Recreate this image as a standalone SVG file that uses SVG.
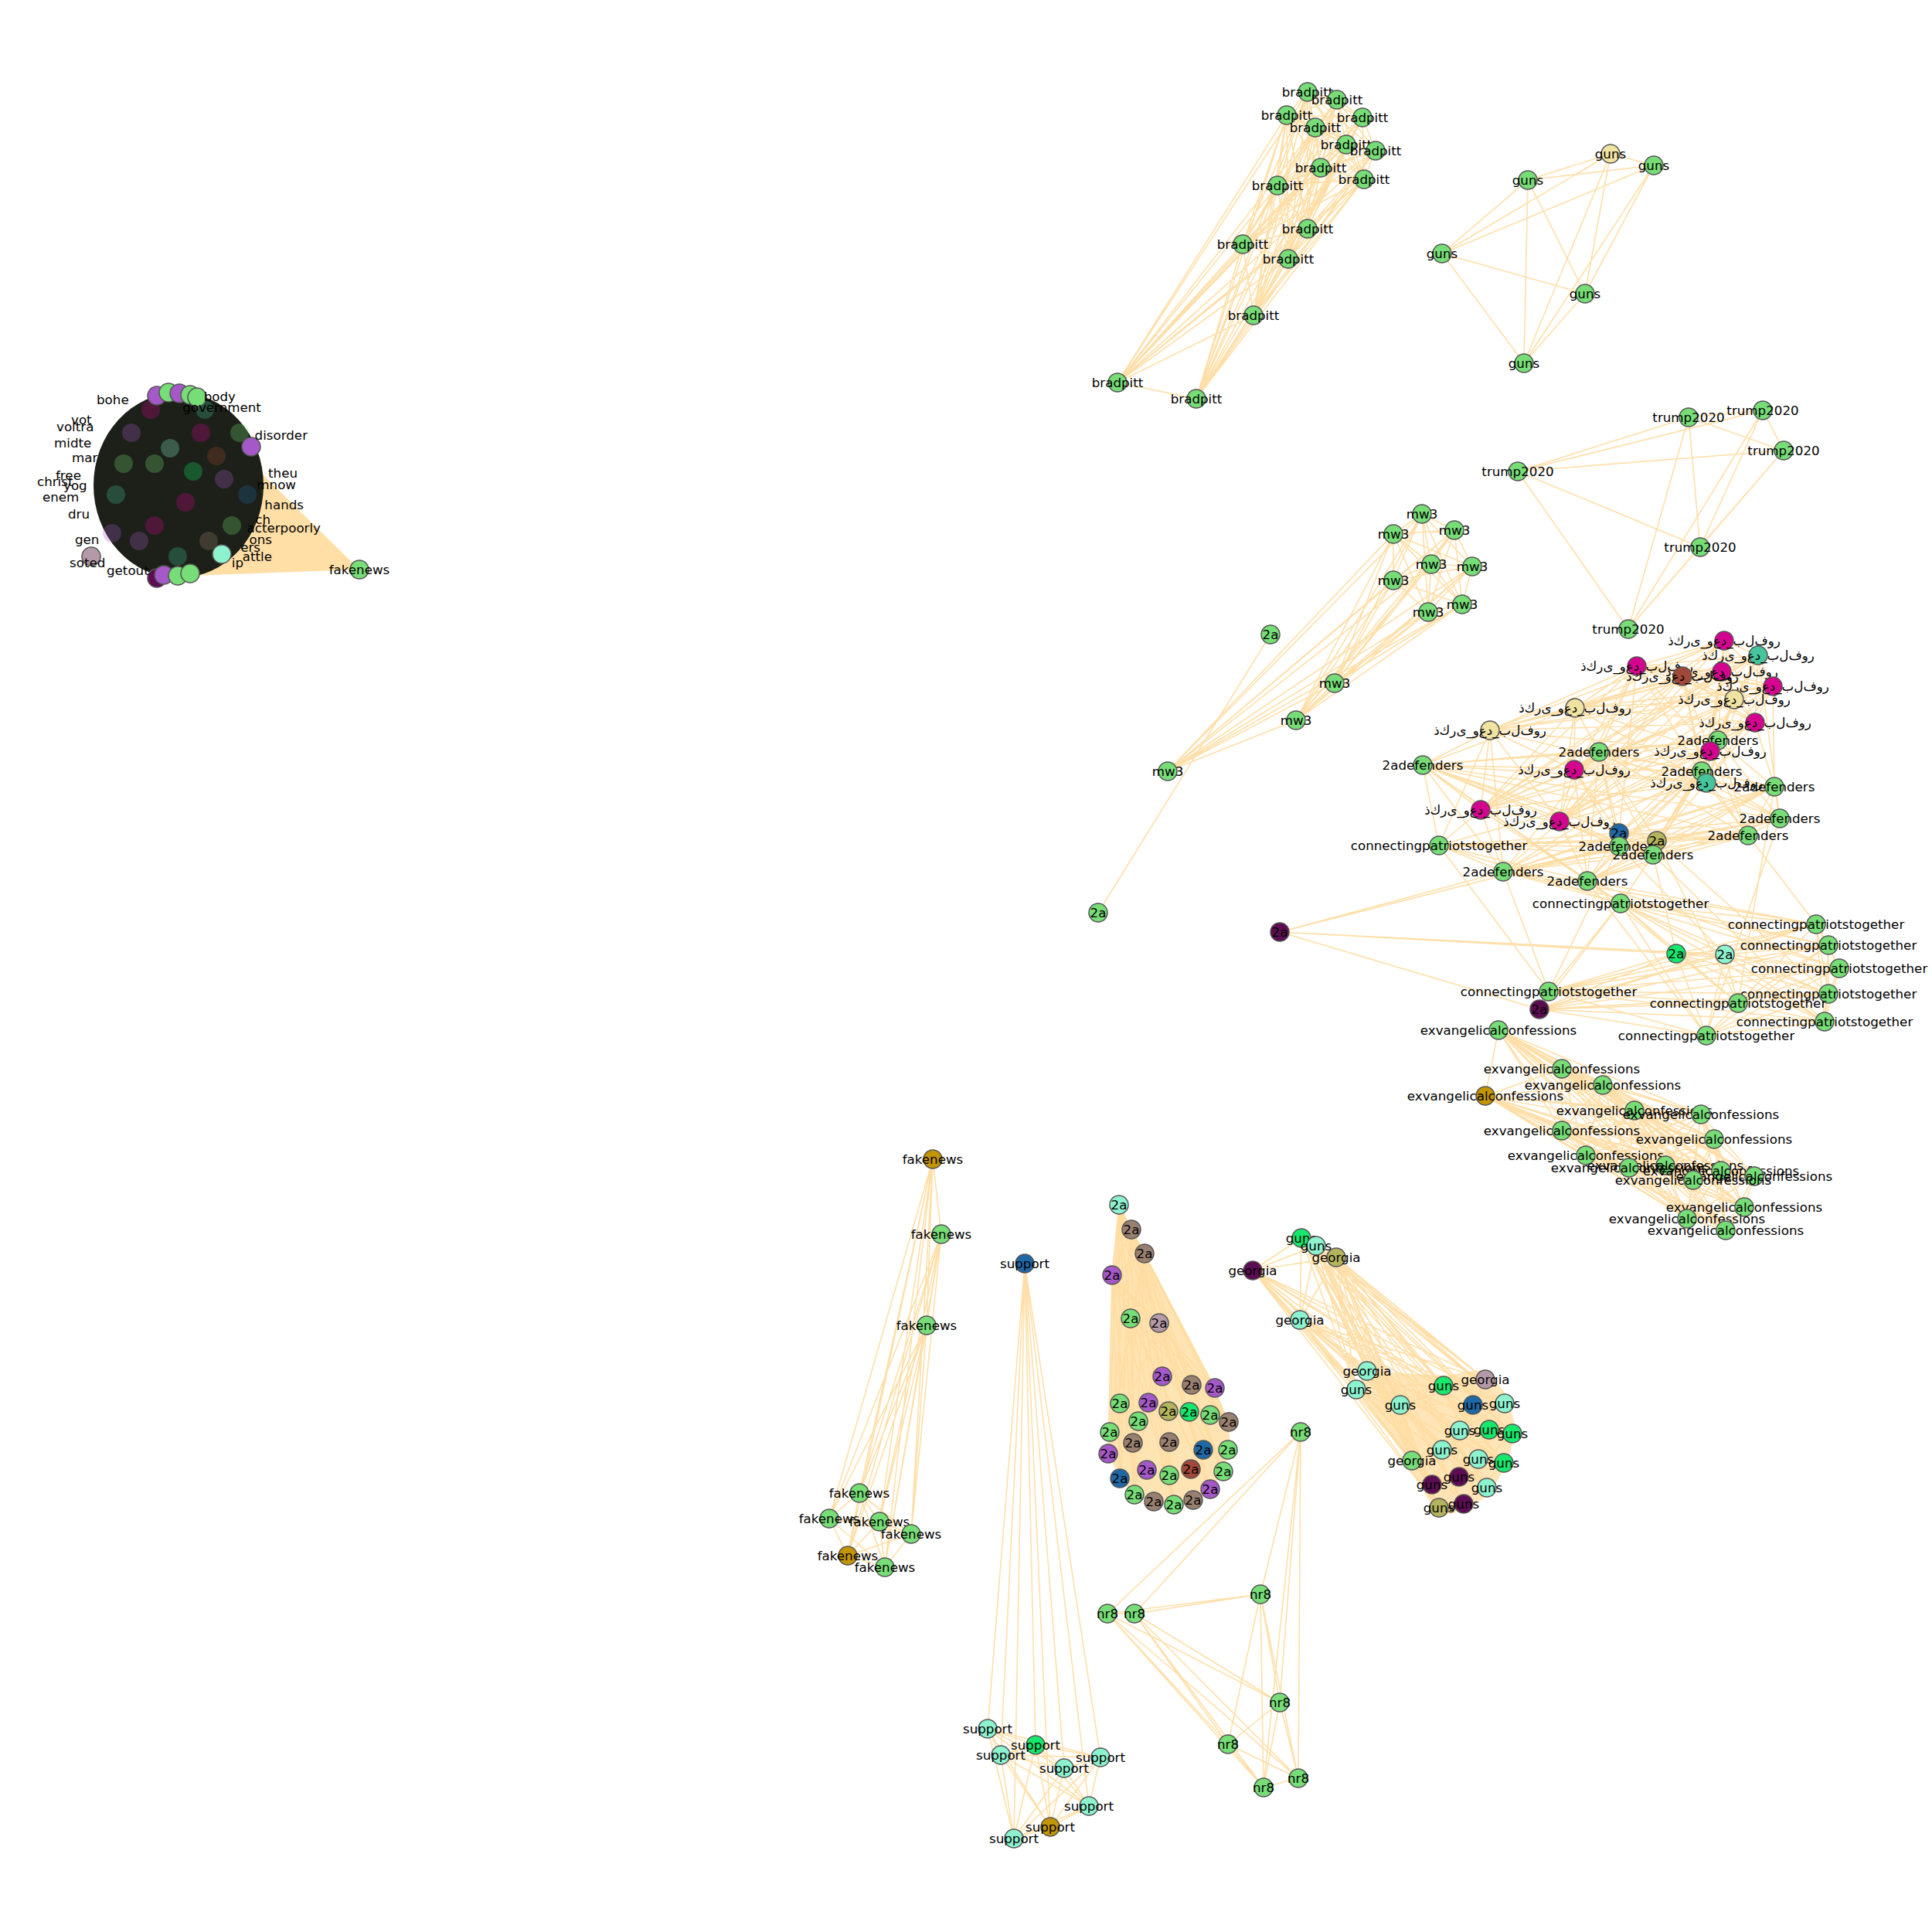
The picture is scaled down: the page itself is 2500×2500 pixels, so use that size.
<svg xmlns="http://www.w3.org/2000/svg" width="2500" height="2500" viewBox="0 0 2500 2500">
<style>
.e{fill:none;stroke:#ffdca0;stroke-width:1.6;stroke-opacity:0.9}
.f{fill:#ffdfa6;stroke:none}
circle{stroke:#555;stroke-width:1.5}
text{font-family:"DejaVu Sans",sans-serif;font-size:16.7px;text-anchor:middle;dominant-baseline:central;fill:#000}
.s{text-anchor:start}.en{text-anchor:end}
.ar{direction:ltr;unicode-bidi:bidi-override;font-feature-settings:"init" 0,"medi" 0,"fina" 0,"rlig" 0,"liga" 0,"calt" 0}
.sp circle{opacity:0.28;stroke:none}
.g{fill:#77dd77}.aq{fill:#8df3cf}.bg{fill:#16e86c}.pu{fill:#a558c8}.br{fill:#998070}.mv{fill:#b49aa8}.ol{fill:#b4b45e}.bl{fill:#1f68a6}.rb{fill:#a2483a}.dp{fill:#5c0c52}.go{fill:#c39500}.kh{fill:#f0e2a0}.mg{fill:#d5048f}.tl{fill:#46c59c}
</style>
<rect width="2500" height="2500" fill="#fff"/>
<g id="connectors">
<polygon class="f" points="465,737 338,612 300,690 248,745"/>
<path class="e" d="M1692 119L1730 129 1692 119 1665 149 1692 119 1763 152 1692 119 1702 165 1692 119 1742 187 1692 119 1780 195 1692 119 1709 217 1692 119 1765 232 1692 119 1653 240 1692 119 1692 296 1692 119 1608 316 1692 119 1667 335 1692 119 1622 408 1692 119 1446 495 1692 119 1548 516
M1730 129L1665 149 1730 129 1763 152 1730 129 1702 165 1730 129 1742 187 1730 129 1780 195 1730 129 1709 217 1730 129 1765 232 1730 129 1653 240 1730 129 1692 296 1730 129 1608 316 1730 129 1667 335 1730 129 1622 408 1730 129 1446 495 1730 129 1548 516
M1665 149L1763 152 1665 149 1702 165 1665 149 1742 187 1665 149 1780 195 1665 149 1709 217 1665 149 1765 232 1665 149 1653 240 1665 149 1692 296 1665 149 1608 316 1665 149 1667 335 1665 149 1622 408 1665 149 1446 495 1665 149 1548 516
M1763 152L1702 165 1763 152 1742 187 1763 152 1780 195 1763 152 1709 217 1763 152 1765 232 1763 152 1653 240 1763 152 1692 296 1763 152 1608 316 1763 152 1667 335 1763 152 1622 408 1763 152 1446 495 1763 152 1548 516
M1702 165L1742 187 1702 165 1780 195 1702 165 1709 217 1702 165 1765 232 1702 165 1653 240 1702 165 1692 296 1702 165 1608 316 1702 165 1667 335 1702 165 1622 408 1702 165 1446 495 1702 165 1548 516
M1742 187L1780 195 1742 187 1709 217 1742 187 1765 232 1742 187 1653 240 1742 187 1692 296 1742 187 1608 316 1742 187 1667 335 1742 187 1622 408 1742 187 1446 495 1742 187 1548 516
M1780 195L1709 217 1780 195 1765 232 1780 195 1653 240 1780 195 1692 296 1780 195 1608 316 1780 195 1667 335 1780 195 1622 408 1780 195 1446 495 1780 195 1548 516
M1709 217L1765 232 1709 217 1653 240 1709 217 1692 296 1709 217 1608 316 1709 217 1667 335 1709 217 1622 408 1709 217 1446 495 1709 217 1548 516
M1765 232L1653 240 1765 232 1692 296 1765 232 1608 316 1765 232 1667 335 1765 232 1622 408 1765 232 1446 495 1765 232 1548 516
M1653 240L1692 296 1653 240 1608 316 1653 240 1667 335 1653 240 1622 408 1653 240 1446 495 1653 240 1548 516
M1692 296L1608 316 1692 296 1667 335 1692 296 1622 408 1692 296 1446 495 1692 296 1548 516
M1608 316L1667 335 1608 316 1622 408 1608 316 1446 495 1608 316 1548 516
M1667 335L1622 408 1667 335 1446 495 1667 335 1548 516
M1622 408L1446 495 1622 408 1548 516
M1446 495L1548 516"/>
<path class="e" d="M2084 199L2140 214 2084 199 1977 233 2084 199 1866 328 2084 199 2051 380 2084 199 1972 470
M2140 214L1977 233 2140 214 1866 328 2140 214 2051 380 2140 214 1972 470
M1977 233L1866 328 1977 233 2051 380 1977 233 1972 470
M1866 328L2051 380 1866 328 1972 470
M2051 380L1972 470"/>
<path class="e" d="M2185 540L2281 531 2185 540 2308 583 2185 540 1964 610 2185 540 2200 708 2185 540 2107 814
M2281 531L2308 583 2281 531 1964 610 2281 531 2200 708 2281 531 2107 814
M2308 583L1964 610 2308 583 2200 708 2308 583 2107 814
M1964 610L2200 708 1964 610 2107 814
M2200 708L2107 814"/>
<path class="e" d="M1840 665L1803 691 1840 665 1882 686 1840 665 1852 730 1840 665 1905 733 1840 665 1803 751 1840 665 1848 792 1840 665 1892 782 1840 665 1727 884 1840 665 1677 932 1840 665 1511 998
M1803 691L1882 686 1803 691 1852 730 1803 691 1905 733 1803 691 1803 751 1803 691 1848 792 1803 691 1892 782 1803 691 1727 884 1803 691 1677 932 1803 691 1511 998
M1882 686L1852 730 1882 686 1905 733 1882 686 1803 751 1882 686 1848 792 1882 686 1892 782 1882 686 1727 884 1882 686 1677 932 1882 686 1511 998
M1852 730L1905 733 1852 730 1803 751 1852 730 1848 792 1852 730 1892 782 1852 730 1727 884 1852 730 1677 932 1852 730 1511 998
M1905 733L1803 751 1905 733 1848 792 1905 733 1892 782 1905 733 1727 884 1905 733 1677 932 1905 733 1511 998
M1803 751L1848 792 1803 751 1892 782 1803 751 1727 884 1803 751 1677 932 1803 751 1511 998
M1848 792L1892 782 1848 792 1727 884 1848 792 1677 932 1848 792 1511 998
M1892 782L1727 884 1892 782 1677 932 1892 782 1511 998
M1727 884L1677 932 1727 884 1511 998
M1677 932L1511 998
M1644 821L1421 1181"/>
<path class="e" d="M2231 829L2275 848 2231 829 2118 862 2231 829 2177 875 2231 829 2228 869 2231 829 2294 888 2231 829 2244 905 2231 829 2038 916 2231 829 1928 945 2231 829 2271 935 2231 829 2213 972 2231 829 2037 996 2231 829 2208 1013 2231 829 1916 1048 2231 829 2018 1063
M2275 848L2118 862 2275 848 2177 875 2275 848 2228 869 2275 848 2294 888 2275 848 2244 905 2275 848 2038 916 2275 848 1928 945 2275 848 2271 935 2275 848 2213 972 2275 848 2037 996 2275 848 2208 1013 2275 848 1916 1048 2275 848 2018 1063
M2118 862L2177 875 2118 862 2228 869 2118 862 2294 888 2118 862 2244 905 2118 862 2038 916 2118 862 1928 945 2118 862 2271 935 2118 862 2213 972 2118 862 2037 996 2118 862 2208 1013 2118 862 1916 1048 2118 862 2018 1063
M2177 875L2228 869 2177 875 2294 888 2177 875 2244 905 2177 875 2038 916 2177 875 1928 945 2177 875 2271 935 2177 875 2213 972 2177 875 2037 996 2177 875 2208 1013 2177 875 1916 1048 2177 875 2018 1063
M2228 869L2294 888 2228 869 2244 905 2228 869 2038 916 2228 869 1928 945 2228 869 2271 935 2228 869 2213 972 2228 869 2037 996 2228 869 2208 1013 2228 869 1916 1048 2228 869 2018 1063
M2294 888L2244 905 2294 888 2038 916 2294 888 1928 945 2294 888 2271 935 2294 888 2213 972 2294 888 2037 996 2294 888 2208 1013 2294 888 1916 1048 2294 888 2018 1063
M2244 905L2038 916 2244 905 1928 945 2244 905 2271 935 2244 905 2213 972 2244 905 2037 996 2244 905 2208 1013 2244 905 1916 1048 2244 905 2018 1063
M2038 916L1928 945 2038 916 2271 935 2038 916 2213 972 2038 916 2037 996 2038 916 2208 1013 2038 916 1916 1048 2038 916 2018 1063
M1928 945L2271 935 1928 945 2213 972 1928 945 2037 996 1928 945 2208 1013 1928 945 1916 1048 1928 945 2018 1063
M2271 935L2213 972 2271 935 2037 996 2271 935 2208 1013 2271 935 1916 1048 2271 935 2018 1063
M2213 972L2037 996 2213 972 2208 1013 2213 972 1916 1048 2213 972 2018 1063
M2037 996L2208 1013 2037 996 1916 1048 2037 996 2018 1063
M2208 1013L1916 1048 2208 1013 2018 1063
M1916 1048L2018 1063"/>
<path class="e" d="M2223 958L2069 973 2223 958 1841 990 2223 958 2202 998 2223 958 2296 1018 2223 958 2303 1059 2223 958 2262 1081 2223 958 2095 1095 2223 958 2139 1106 2223 958 1945 1128 2223 958 2054 1140 2223 958 2095 1078 2223 958 2144 1088
M2069 973L1841 990 2069 973 2202 998 2069 973 2296 1018 2069 973 2303 1059 2069 973 2262 1081 2069 973 2095 1095 2069 973 2139 1106 2069 973 1945 1128 2069 973 2054 1140 2069 973 2095 1078 2069 973 2144 1088
M1841 990L2202 998 1841 990 2296 1018 1841 990 2303 1059 1841 990 2262 1081 1841 990 2095 1095 1841 990 2139 1106 1841 990 1945 1128 1841 990 2054 1140 1841 990 2095 1078 1841 990 2144 1088
M2202 998L2296 1018 2202 998 2303 1059 2202 998 2262 1081 2202 998 2095 1095 2202 998 2139 1106 2202 998 1945 1128 2202 998 2054 1140 2202 998 2095 1078 2202 998 2144 1088
M2296 1018L2303 1059 2296 1018 2262 1081 2296 1018 2095 1095 2296 1018 2139 1106 2296 1018 1945 1128 2296 1018 2054 1140 2296 1018 2095 1078 2296 1018 2144 1088
M2303 1059L2262 1081 2303 1059 2095 1095 2303 1059 2139 1106 2303 1059 1945 1128 2303 1059 2054 1140 2303 1059 2095 1078 2303 1059 2144 1088
M2262 1081L2095 1095 2262 1081 2139 1106 2262 1081 1945 1128 2262 1081 2054 1140 2262 1081 2095 1078 2262 1081 2144 1088
M2095 1095L2139 1106 2095 1095 1945 1128 2095 1095 2054 1140 2095 1095 2095 1078 2095 1095 2144 1088
M2139 1106L1945 1128 2139 1106 2054 1140 2139 1106 2095 1078 2139 1106 2144 1088
M1945 1128L2054 1140 1945 1128 2095 1078 1945 1128 2144 1088
M2054 1140L2095 1078 2054 1140 2144 1088
M2095 1078L2144 1088"/>
<path class="e" d="M1928 945L1841 990M1928 945L1945 1128M1916 1048L1841 990M1916 1048L1945 1128M1916 1048L2054 1140M2018 1063L1945 1128M2018 1063L2095 1095M2018 1063L2139 1106M2037 996L2069 973M2037 996L2095 1095M2037 996L2095 1078M2038 916L2069 973M2038 916L1841 990M2118 862L2069 973M2118 862L2095 1078M2177 875L2202 998M2213 972L2202 998M2213 972L2262 1081M2208 1013L2296 1018M2208 1013L2303 1059M2208 1013L2262 1081M2271 935L2296 1018M2271 935L2223 958M2244 905L2223 958M2294 888L2296 1018M2228 869L2202 998M2275 848L2303 1059M2231 829L2223 958M2213 972L2144 1088M2208 1013L2144 1088M2037 996L2054 1140M2018 1063L2054 1140M1916 1048L1862 1094M1928 945L1862 1094"/>
<path class="e" d="M2097 1169L2350 1196 2097 1169 2366 1223 2097 1169 2380 1253 2097 1169 2366 1286 2097 1169 2004 1283 2097 1169 2249 1298 2097 1169 2361 1322 2097 1169 2208 1340 2097 1169 2169 1234 2097 1169 2232 1235 2097 1169 1992 1306
M2350 1196L2366 1223 2350 1196 2380 1253 2350 1196 2366 1286 2350 1196 2004 1283 2350 1196 2249 1298 2350 1196 2361 1322 2350 1196 2208 1340 2350 1196 2169 1234 2350 1196 2232 1235 2350 1196 1992 1306
M2366 1223L2380 1253 2366 1223 2366 1286 2366 1223 2004 1283 2366 1223 2249 1298 2366 1223 2361 1322 2366 1223 2208 1340 2366 1223 2169 1234 2366 1223 2232 1235 2366 1223 1992 1306
M2380 1253L2366 1286 2380 1253 2004 1283 2380 1253 2249 1298 2380 1253 2361 1322 2380 1253 2208 1340 2380 1253 2169 1234 2380 1253 2232 1235 2380 1253 1992 1306
M2366 1286L2004 1283 2366 1286 2249 1298 2366 1286 2361 1322 2366 1286 2208 1340 2366 1286 2169 1234 2366 1286 2232 1235 2366 1286 1992 1306
M2004 1283L2249 1298 2004 1283 2361 1322 2004 1283 2208 1340 2004 1283 2169 1234 2004 1283 2232 1235 2004 1283 1992 1306
M2249 1298L2361 1322 2249 1298 2208 1340 2249 1298 2169 1234 2249 1298 2232 1235 2249 1298 1992 1306
M2361 1322L2208 1340 2361 1322 2169 1234 2361 1322 2232 1235 2361 1322 1992 1306
M2208 1340L2169 1234 2208 1340 2232 1235 2208 1340 1992 1306
M2169 1234L2232 1235 2169 1234 1992 1306
M2232 1235L1992 1306
M1862 1094L1945 1128 1862 1094 2054 1140 1862 1094 2095 1095 1862 1094 2139 1106 1862 1094 2095 1078 1862 1094 2144 1088 1862 1094 2202 998 1862 1094 2262 1081 1862 1094 2097 1169 1862 1094 2004 1283 1862 1094 1841 990
M1945 1128L2097 1169 1945 1128 2350 1196 1945 1128 2366 1223 1945 1128 2004 1283
M2054 1140L2097 1169 2054 1140 2350 1196 2054 1140 2380 1253 2054 1140 2249 1298 2054 1140 2208 1340
M2139 1106L2097 1169 2139 1106 2169 1234 2139 1106 2361 1322
M2095 1095L2004 1283 2095 1095 2232 1235
M2144 1088L2366 1286 2144 1088 2249 1298
M2262 1081L2350 1196M2303 1059L2208 1340M2296 1018L2249 1298M1841 990L2097 1169
M1656 1206L1945 1128 1656 1206 2095 1095 1656 1206 2169 1234 1656 1206 2232 1235 1656 1206 1992 1306"/>
<path class="e" d="M1939 1333L2021 1383 1939 1333 2074 1404 1939 1333 1922 1418 1939 1333 2115 1437 1939 1333 2201 1442 1939 1333 2021 1463 1939 1333 2218 1474 1939 1333 2052 1495 1939 1333 2108 1511 1939 1333 2155 1508 1939 1333 2191 1527 1939 1333 2227 1515 1939 1333 2270 1522 1939 1333 2257 1562 1939 1333 2183 1577 1939 1333 2233 1592
M2021 1383L2074 1404 2021 1383 1922 1418 2021 1383 2115 1437 2021 1383 2201 1442 2021 1383 2021 1463 2021 1383 2218 1474 2021 1383 2052 1495 2021 1383 2108 1511 2021 1383 2155 1508 2021 1383 2191 1527 2021 1383 2227 1515 2021 1383 2270 1522 2021 1383 2257 1562 2021 1383 2183 1577 2021 1383 2233 1592
M2074 1404L1922 1418 2074 1404 2115 1437 2074 1404 2201 1442 2074 1404 2021 1463 2074 1404 2218 1474 2074 1404 2052 1495 2074 1404 2108 1511 2074 1404 2155 1508 2074 1404 2191 1527 2074 1404 2227 1515 2074 1404 2270 1522 2074 1404 2257 1562 2074 1404 2183 1577 2074 1404 2233 1592
M1922 1418L2115 1437 1922 1418 2201 1442 1922 1418 2021 1463 1922 1418 2218 1474 1922 1418 2052 1495 1922 1418 2108 1511 1922 1418 2155 1508 1922 1418 2191 1527 1922 1418 2227 1515 1922 1418 2270 1522 1922 1418 2257 1562 1922 1418 2183 1577 1922 1418 2233 1592
M2115 1437L2201 1442 2115 1437 2021 1463 2115 1437 2218 1474 2115 1437 2052 1495 2115 1437 2108 1511 2115 1437 2155 1508 2115 1437 2191 1527 2115 1437 2227 1515 2115 1437 2270 1522 2115 1437 2257 1562 2115 1437 2183 1577 2115 1437 2233 1592
M2201 1442L2021 1463 2201 1442 2218 1474 2201 1442 2052 1495 2201 1442 2108 1511 2201 1442 2155 1508 2201 1442 2191 1527 2201 1442 2227 1515 2201 1442 2270 1522 2201 1442 2257 1562 2201 1442 2183 1577 2201 1442 2233 1592
M2021 1463L2218 1474 2021 1463 2052 1495 2021 1463 2108 1511 2021 1463 2155 1508 2021 1463 2191 1527 2021 1463 2227 1515 2021 1463 2270 1522 2021 1463 2257 1562 2021 1463 2183 1577 2021 1463 2233 1592
M2218 1474L2052 1495 2218 1474 2108 1511 2218 1474 2155 1508 2218 1474 2191 1527 2218 1474 2227 1515 2218 1474 2270 1522 2218 1474 2257 1562 2218 1474 2183 1577 2218 1474 2233 1592
M2052 1495L2108 1511 2052 1495 2155 1508 2052 1495 2191 1527 2052 1495 2227 1515 2052 1495 2270 1522 2052 1495 2257 1562 2052 1495 2183 1577 2052 1495 2233 1592
M2108 1511L2155 1508 2108 1511 2191 1527 2108 1511 2227 1515 2108 1511 2270 1522 2108 1511 2257 1562 2108 1511 2183 1577 2108 1511 2233 1592
M2155 1508L2191 1527 2155 1508 2227 1515 2155 1508 2270 1522 2155 1508 2257 1562 2155 1508 2183 1577 2155 1508 2233 1592
M2191 1527L2227 1515 2191 1527 2270 1522 2191 1527 2257 1562 2191 1527 2183 1577 2191 1527 2233 1592
M2227 1515L2270 1522 2227 1515 2257 1562 2227 1515 2183 1577 2227 1515 2233 1592
M2270 1522L2257 1562 2270 1522 2183 1577 2270 1522 2233 1592
M2257 1562L2183 1577 2257 1562 2233 1592
M2183 1577L2233 1592"/>
<path class="e" d="M1207 1500L1218 1597 1207 1500 1199 1715 1207 1500 1112 1932 1207 1500 1073 1965 1207 1500 1138 1969 1207 1500 1179 1985 1207 1500 1097 2013 1207 1500 1145 2028
M1218 1597L1199 1715 1218 1597 1112 1932 1218 1597 1073 1965 1218 1597 1138 1969 1218 1597 1179 1985 1218 1597 1097 2013 1218 1597 1145 2028
M1199 1715L1112 1932 1199 1715 1073 1965 1199 1715 1138 1969 1199 1715 1179 1985 1199 1715 1097 2013 1199 1715 1145 2028
M1112 1932L1073 1965 1112 1932 1138 1969 1112 1932 1179 1985 1112 1932 1097 2013 1112 1932 1145 2028
M1073 1965L1138 1969 1073 1965 1179 1985 1073 1965 1097 2013 1073 1965 1145 2028
M1138 1969L1179 1985 1138 1969 1097 2013 1138 1969 1145 2028
M1179 1985L1097 2013 1179 1985 1145 2028
M1097 2013L1145 2028"/>
<path class="e" d="M1326 1635L1278 2237 1326 1635 1340 2258 1326 1635 1295 2271 1326 1635 1377 2288 1326 1635 1424 2274 1326 1635 1409 2337 1326 1635 1359 2364 1326 1635 1312 2379
M1278 2237L1340 2258 1278 2237 1295 2271 1278 2237 1377 2288 1278 2237 1424 2274 1278 2237 1409 2337 1278 2237 1359 2364 1278 2237 1312 2379
M1340 2258L1295 2271 1340 2258 1377 2288 1340 2258 1424 2274 1340 2258 1409 2337 1340 2258 1359 2364 1340 2258 1312 2379
M1295 2271L1377 2288 1295 2271 1424 2274 1295 2271 1409 2337 1295 2271 1359 2364 1295 2271 1312 2379
M1377 2288L1424 2274 1377 2288 1409 2337 1377 2288 1359 2364 1377 2288 1312 2379
M1424 2274L1409 2337 1424 2274 1359 2364 1424 2274 1312 2379
M1409 2337L1359 2364 1409 2337 1312 2379
M1359 2364L1312 2379"/>
<path class="e" d="M1683 1853L1631 2063 1683 1853 1433 2088 1683 1853 1468 2088 1683 1853 1656 2203 1683 1853 1680 2301 1683 1853 1635 2313
M1631 2063L1433 2088 1631 2063 1468 2088 1631 2063 1656 2203 1631 2063 1589 2257 1631 2063 1680 2301 1631 2063 1635 2313
M1433 2088L1468 2088 1433 2088 1656 2203 1433 2088 1589 2257 1433 2088 1680 2301 1433 2088 1635 2313
M1468 2088L1656 2203 1468 2088 1589 2257 1468 2088 1680 2301 1468 2088 1635 2313
M1656 2203L1589 2257 1656 2203 1680 2301 1656 2203 1635 2313
M1589 2257L1680 2301 1589 2257 1635 2313
M1680 2301L1635 2313"/>
<polygon class="f" opacity="0.85" points="1448,1559 1464,1591 1481,1622 1572,1796 1590,1840 1592,1876 1583,1904 1566,1927 1544,1941 1519,1947 1493,1943 1468,1934 1449,1913 1434,1881 1436,1853 1437,1760 1439,1650"/>
<path class="e" d="M1448 1559L1434 1881 1448 1559 1449 1913 1448 1559 1468 1934 1448 1559 1519 1947 1448 1559 1566 1927 1448 1559 1583 1904 1448 1559 1590 1840 1448 1559 1572 1796 1448 1559 1504 1781 1448 1559 1539 1827 1448 1559 1464 1591 1448 1559 1481 1622 1448 1559 1439 1650 1448 1559 1463 1706 1448 1559 1500 1712
M1464 1591L1434 1881 1464 1591 1449 1913 1464 1591 1468 1934 1464 1591 1519 1947 1464 1591 1566 1927 1464 1591 1583 1904 1464 1591 1590 1840 1464 1591 1572 1796 1464 1591 1504 1781 1464 1591 1481 1622 1464 1591 1439 1650 1464 1591 1500 1712
M1481 1622L1434 1881 1481 1622 1449 1913 1481 1622 1468 1934 1481 1622 1519 1947 1481 1622 1566 1927 1481 1622 1583 1904 1481 1622 1590 1840 1481 1622 1572 1796 1481 1622 1542 1792 1481 1622 1439 1650 1481 1622 1463 1706
M1439 1650L1434 1881 1439 1650 1449 1913 1439 1650 1468 1934 1439 1650 1519 1947 1439 1650 1566 1927 1439 1650 1583 1904 1439 1650 1590 1840 1439 1650 1572 1796 1439 1650 1463 1706 1439 1650 1500 1712
M1463 1706L1434 1881 1463 1706 1468 1934 1463 1706 1519 1947 1463 1706 1566 1927 1463 1706 1590 1840 1463 1706 1572 1796 1463 1706 1500 1712
M1500 1712L1434 1881 1500 1712 1468 1934 1500 1712 1519 1947 1500 1712 1566 1927 1500 1712 1590 1840 1500 1712 1583 1904"/>
<polygon class="f" opacity="0.8" points="1769,1774 1868,1780 1922,1772 1950,1805 1962,1850 1950,1895 1926,1935 1894,1955 1862,1962 1845,1935 1815,1880 1755,1798"/>
<path class="e" d="M1621 1644L1684 1602 1621 1644 1703 1612 1621 1644 1729 1627 1621 1644 1682 1708M1684 1602L1703 1612 1729 1627 1684 1602 1682 1708 1703 1612M1729 1627L1682 1708
M1684 1602L1769 1774 1684 1602 1755 1798 1684 1602 1922 1785 1684 1602 1947 1816 1684 1602 1957 1855 1684 1602 1946 1893 1684 1602 1924 1925 1684 1602 1894 1946 1684 1602 1862 1951 1684 1602 1853 1921 1684 1602 1827 1890 1684 1602 1868 1793 1684 1602 1812 1818
M1703 1612L1769 1774 1703 1612 1755 1798 1703 1612 1922 1785 1703 1612 1947 1816 1703 1612 1957 1855 1703 1612 1946 1893 1703 1612 1924 1925 1703 1612 1894 1946 1703 1612 1862 1951 1703 1612 1853 1921 1703 1612 1827 1890 1703 1612 1868 1793 1703 1612 1812 1818
M1729 1627L1769 1774 1729 1627 1755 1798 1729 1627 1922 1785 1729 1627 1947 1816 1729 1627 1957 1855 1729 1627 1946 1893 1729 1627 1924 1925 1729 1627 1894 1946 1729 1627 1862 1951 1729 1627 1853 1921 1729 1627 1827 1890 1729 1627 1868 1793 1729 1627 1812 1818
M1621 1644L1769 1774 1621 1644 1755 1798 1621 1644 1922 1785 1621 1644 1947 1816 1621 1644 1957 1855 1621 1644 1946 1893 1621 1644 1924 1925 1621 1644 1894 1946 1621 1644 1862 1951 1621 1644 1853 1921 1621 1644 1827 1890 1621 1644 1868 1793 1621 1644 1812 1818
M1682 1708L1769 1774 1682 1708 1755 1798 1682 1708 1922 1785 1682 1708 1947 1816 1682 1708 1957 1855 1682 1708 1946 1893 1682 1708 1924 1925 1682 1708 1894 1946 1682 1708 1862 1951 1682 1708 1853 1921 1682 1708 1827 1890 1682 1708 1868 1793 1682 1708 1812 1818
M1769 1774L1957 1855 1755 1798 1946 1893 1769 1774 1924 1925 1755 1798 1922 1785 1812 1818 1947 1816 1827 1890 1957 1855 1862 1951 1922 1785 1853 1921 1946 1893 1894 1946 1947 1816 1868 1793 1924 1925 1812 1818 1862 1951"/>
</g>
<g id="hairball">
<ellipse cx="231" cy="628" rx="110" ry="120" fill="#1c2018"/>
<g class="sp">
<circle class="pu" cx="170" cy="560" r="12"/><circle class="mg" cx="260" cy="560" r="12"/><circle class="g" cx="200" cy="600" r="12"/><circle class="pu" cx="290" cy="620" r="12"/><circle class="tl" cx="150" cy="640" r="12"/><circle class="mg" cx="240" cy="650" r="12"/><circle class="g" cx="300" cy="680" r="12"/><circle class="pu" cx="180" cy="700" r="12"/><circle class="aq" cx="220" cy="580" r="12"/><circle class="br" cx="270" cy="700" r="12"/><circle class="g" cx="160" cy="600" r="12"/><circle class="g" cx="310" cy="560" r="12"/><circle class="bg" cx="250" cy="610" r="12"/><circle class="mg" cx="200" cy="680" r="12"/><circle class="rb" cx="280" cy="590" r="12"/><circle class="tl" cx="230" cy="720" r="12"/><circle class="pu" cx="145" cy="690" r="12"/><circle class="bl" cx="320" cy="640" r="12"/><circle class="mg" cx="195" cy="530" r="12"/><circle class="tl" cx="265" cy="530" r="12"/>
</g>
<circle class="pu" cx="203" cy="512" r="12"/><circle class="g" cx="218" cy="508" r="12"/><circle class="pu" cx="232" cy="509" r="12"/><circle class="g" cx="246" cy="511" r="12"/><circle class="g" cx="255" cy="514" r="12"/>
<circle class="dp" cx="203" cy="748" r="12"/><circle class="pu" cx="212" cy="744" r="12"/><circle class="g" cx="230" cy="745" r="12"/><circle class="g" cx="246" cy="742" r="12"/>
<circle class="mv" cx="118" cy="720" r="12"/><circle class="pu" cx="325" cy="578" r="12"/><circle class="aq" cx="287" cy="717" r="12"/>
<text class="s" x="125" y="517">bohe</text><text class="en" x="305" y="513">body</text><text x="287" y="527">government</text>
<text class="s" x="92" y="543">vot</text><text class="s" x="73" y="552">voltra</text><text class="en" x="398" y="563">disorder</text>
<text class="s" x="70" y="573">midte</text><text class="s" x="93" y="592">mar</text><text class="en" x="385" y="612">theu</text>
<text class="s" x="72" y="615">free</text><text class="s" x="48" y="623">christ</text><text class="en" x="383" y="627">mnow</text>
<text class="s" x="82" y="628">yog</text><text class="s" x="55" y="643">enem</text><text class="en" x="393" y="653">hands</text>
<text class="s" x="88" y="665">dru</text><text class="en" x="350" y="672">ch</text><text class="en" x="415" y="683">acterpoorly</text>
<text class="s" x="97" y="698">gen</text><text class="en" x="352" y="698">ons</text><text class="en" x="337" y="708">ers</text>
<text class="en" x="352" y="720">attle</text><text class="s" x="90" y="728">soted</text><text class="en" x="315" y="728">ip</text>
<text class="s" x="138" y="738">getout</text>
</g>
<g id="n_fake0"><circle class="g" cx="465" cy="737" r="12"/><text x="465" y="737">fakenews</text></g>
<g id="bradpitt">
<g id="b1"><circle class="g" cx="1692" cy="119" r="12"/><text x="1692" y="119">bradpitt</text></g>
<g id="b2"><circle class="g" cx="1730" cy="129" r="12"/><text x="1730" y="129">bradpitt</text></g>
<g id="b3"><circle class="g" cx="1665" cy="149" r="12"/><text x="1665" y="149">bradpitt</text></g>
<g id="b4"><circle class="g" cx="1763" cy="152" r="12"/><text x="1763" y="152">bradpitt</text></g>
<g id="b5"><circle class="g" cx="1702" cy="165" r="12"/><text x="1702" y="165">bradpitt</text></g>
<g id="b6"><circle class="g" cx="1742" cy="187" r="12"/><text x="1742" y="187">bradpitt</text></g>
<g id="b7"><circle class="g" cx="1780" cy="195" r="12"/><text x="1780" y="195">bradpitt</text></g>
<g id="b8"><circle class="g" cx="1709" cy="217" r="12"/><text x="1709" y="217">bradpitt</text></g>
<g id="b9"><circle class="g" cx="1765" cy="232" r="12"/><text x="1765" y="232">bradpitt</text></g>
<g id="b10"><circle class="g" cx="1653" cy="240" r="12"/><text x="1653" y="240">bradpitt</text></g>
<g id="b11"><circle class="g" cx="1692" cy="296" r="12"/><text x="1692" y="296">bradpitt</text></g>
<g id="b12"><circle class="g" cx="1608" cy="316" r="12"/><text x="1608" y="316">bradpitt</text></g>
<g id="b13"><circle class="g" cx="1667" cy="335" r="12"/><text x="1667" y="335">bradpitt</text></g>
<g id="b14"><circle class="g" cx="1622" cy="408" r="12"/><text x="1622" y="408">bradpitt</text></g>
<g id="b15"><circle class="g" cx="1446" cy="495" r="12"/><text x="1446" y="495">bradpitt</text></g>
<g id="b16"><circle class="g" cx="1548" cy="516" r="12"/><text x="1548" y="516">bradpitt</text></g>
</g>
<g id="guns1">
<g id="g1"><circle class="kh" cx="2084" cy="199" r="12"/><text x="2084" y="199">guns</text></g>
<g id="g2"><circle class="g" cx="2140" cy="214" r="12"/><text x="2140" y="214">guns</text></g>
<g id="g3"><circle class="g" cx="1977" cy="233" r="12"/><text x="1977" y="233">guns</text></g>
<g id="g4"><circle class="g" cx="1866" cy="328" r="12"/><text x="1866" y="328">guns</text></g>
<g id="g5"><circle class="g" cx="2051" cy="380" r="12"/><text x="2051" y="380">guns</text></g>
<g id="g6"><circle class="g" cx="1972" cy="470" r="12"/><text x="1972" y="470">guns</text></g>
</g>
<g id="trump">
<g id="t1"><circle class="g" cx="2185" cy="540" r="12"/><text x="2185" y="540">trump2020</text></g>
<g id="t2"><circle class="g" cx="2281" cy="531" r="12"/><text x="2281" y="531">trump2020</text></g>
<g id="t3"><circle class="g" cx="2308" cy="583" r="12"/><text x="2308" y="583">trump2020</text></g>
<g id="t4"><circle class="g" cx="1964" cy="610" r="12"/><text x="1964" y="610">trump2020</text></g>
<g id="t5"><circle class="g" cx="2200" cy="708" r="12"/><text x="2200" y="708">trump2020</text></g>
<g id="t6"><circle class="g" cx="2107" cy="814" r="12"/><text x="2107" y="814">trump2020</text></g>
</g>
<g id="mw3">
<g id="m1"><circle class="g" cx="1840" cy="665" r="12"/><text x="1840" y="665">mw3</text></g>
<g id="m2"><circle class="g" cx="1803" cy="691" r="12"/><text x="1803" y="691">mw3</text></g>
<g id="m3"><circle class="g" cx="1882" cy="686" r="12"/><text x="1882" y="686">mw3</text></g>
<g id="m4"><circle class="g" cx="1852" cy="730" r="12"/><text x="1852" y="730">mw3</text></g>
<g id="m5"><circle class="g" cx="1905" cy="733" r="12"/><text x="1905" y="733">mw3</text></g>
<g id="m6"><circle class="g" cx="1803" cy="751" r="12"/><text x="1803" y="751">mw3</text></g>
<g id="m7"><circle class="g" cx="1848" cy="792" r="12"/><text x="1848" y="792">mw3</text></g>
<g id="m8"><circle class="g" cx="1892" cy="782" r="12"/><text x="1892" y="782">mw3</text></g>
<g id="m9"><circle class="g" cx="1727" cy="884" r="12"/><text x="1727" y="884">mw3</text></g>
<g id="m10"><circle class="g" cx="1677" cy="932" r="12"/><text x="1677" y="932">mw3</text></g>
<g id="m11"><circle class="g" cx="1511" cy="998" r="12"/><text x="1511" y="998">mw3</text></g>
<g id="x2a1"><circle class="g" cx="1644" cy="821" r="12"/><text x="1644" y="821">2a</text></g>
<g id="x2a2"><circle class="g" cx="1421" cy="1181" r="12"/><text x="1421" y="1181">2a</text></g>
</g>
<g id="balfour">
<g id="a1"><circle class="mg" cx="2231" cy="829" r="12"/><text class="ar" x="2231" y="829">ذكرى_وعد_بلفور</text></g>
<g id="a2"><circle class="tl" cx="2275" cy="848" r="12"/><text class="ar" x="2275" y="848">ذكرى_وعد_بلفور</text></g>
<g id="a3"><circle class="mg" cx="2118" cy="862" r="12"/><text class="ar" x="2118" y="862">ذكرى_وعد_بلفور</text></g>
<g id="a5"><circle class="mg" cx="2228" cy="869" r="12"/><text class="ar" x="2228" y="869">ذكرى_وعد_بلفور</text></g>
<g id="a4"><circle class="rb" cx="2177" cy="875" r="12"/><text class="ar" x="2177" y="875">ذكرى_وعد_بلفور</text></g>
<g id="a6"><circle class="mg" cx="2294" cy="888" r="12"/><text class="ar" x="2294" y="888">ذكرى_وعد_بلفور</text></g>
<g id="a7"><circle class="kh" cx="2244" cy="905" r="12"/><text class="ar" x="2244" y="905">ذكرى_وعد_بلفور</text></g>
<g id="a8"><circle class="kh" cx="2038" cy="916" r="12"/><text class="ar" x="2038" y="916">ذكرى_وعد_بلفور</text></g>
<g id="a9"><circle class="kh" cx="1928" cy="945" r="12"/><text class="ar" x="1928" y="945">ذكرى_وعد_بلفور</text></g>
<g id="a10"><circle class="mg" cx="2271" cy="935" r="12"/><text class="ar" x="2271" y="935">ذكرى_وعد_بلفور</text></g>
<g id="d1b"><circle class="g" cx="2223" cy="958" r="12"/><text x="2223" y="958">2adefenders</text></g>
<g id="a11"><circle class="mg" cx="2213" cy="972" r="12"/><text class="ar" x="2213" y="972">ذكرى_وعد_بلفور</text></g>
<g id="d2b"><circle class="g" cx="2069" cy="973" r="12"/><text x="2069" y="973">2adefenders</text></g>
<g id="d3b"><circle class="g" cx="1841" cy="990" r="12"/><text x="1841" y="990">2adefenders</text></g>
<g id="a12"><circle class="mg" cx="2037" cy="996" r="12"/><text class="ar" x="2037" y="996">ذكرى_وعد_بلفور</text></g>
<g id="d4b"><circle class="g" cx="2202" cy="998" r="12"/><text x="2202" y="998">2adefenders</text></g>
<g id="a13"><circle class="tl" cx="2208" cy="1013" r="12"/><text class="ar" x="2208" y="1013">ذكرى_وعد_بلفور</text></g>
<g id="d5b"><circle class="g" cx="2296" cy="1018" r="12"/><text x="2296" y="1018">2adefenders</text></g>
<g id="a14"><circle class="mg" cx="1916" cy="1048" r="12"/><text class="ar" x="1916" y="1048">ذكرى_وعد_بلفور</text></g>
<g id="a15"><circle class="mg" cx="2018" cy="1063" r="12"/><text class="ar" x="2018" y="1063">ذكرى_وعد_بلفور</text></g>
<g id="d6b"><circle class="g" cx="2303" cy="1059" r="12"/><text x="2303" y="1059">2adefenders</text></g>
<g id="c1"><circle class="bl" cx="2095" cy="1078" r="12"/><text x="2095" y="1078">2a</text></g>
<g id="d7b"><circle class="g" cx="2262" cy="1081" r="12"/><text x="2262" y="1081">2adefenders</text></g>
<g id="c2"><circle class="ol" cx="2144" cy="1088" r="12"/><text x="2144" y="1088">2a</text></g>
<g id="d8b"><circle class="g" cx="2095" cy="1095" r="12"/><text x="2095" y="1095">2adefenders</text></g>
<g id="d9b"><circle class="g" cx="2139" cy="1106" r="12"/><text x="2139" y="1106">2adefenders</text></g>
<g id="d10b"><circle class="g" cx="1945" cy="1128" r="12"/><text x="1945" y="1128">2adefenders</text></g>
<g id="d11b"><circle class="g" cx="2054" cy="1140" r="12"/><text x="2054" y="1140">2adefenders</text></g>
</g>
<g id="patriots">
<g id="cp1"><circle class="g" cx="1862" cy="1094" r="12"/><text x="1862" y="1094">connectingpatriotstogether</text></g>
<g id="cp2"><circle class="g" cx="2097" cy="1169" r="12"/><text x="2097" y="1169">connectingpatriotstogether</text></g>
<g id="cp3"><circle class="g" cx="2350" cy="1196" r="12"/><text x="2350" y="1196">connectingpatriotstogether</text></g>
<g id="cp4"><circle class="g" cx="2366" cy="1223" r="12"/><text x="2366" y="1223">connectingpatriotstogether</text></g>
<g id="e1"><circle class="bg" cx="2169" cy="1234" r="12"/><text x="2169" y="1234">2a</text></g>
<g id="e2"><circle class="aq" cx="2232" cy="1235" r="12"/><text x="2232" y="1235">2a</text></g>
<g id="cp5"><circle class="g" cx="2380" cy="1253" r="12"/><text x="2380" y="1253">connectingpatriotstogether</text></g>
<g id="cp7"><circle class="g" cx="2004" cy="1283" r="12"/><text x="2004" y="1283">connectingpatriotstogether</text></g>
<g id="cp6"><circle class="g" cx="2366" cy="1286" r="12"/><text x="2366" y="1286">connectingpatriotstogether</text></g>
<g id="cp8"><circle class="g" cx="2249" cy="1298" r="12"/><text x="2249" y="1298">connectingpatriotstogether</text></g>
<g id="dd2"><circle class="dp" cx="1992" cy="1306" r="12"/><text x="1992" y="1306">2a</text></g>
<g id="cp9"><circle class="g" cx="2361" cy="1322" r="12"/><text x="2361" y="1322">connectingpatriotstogether</text></g>
<g id="cp10"><circle class="g" cx="2208" cy="1340" r="12"/><text x="2208" y="1340">connectingpatriotstogether</text></g>
<g id="dd1"><circle class="dp" cx="1656" cy="1206" r="12"/><text x="1656" y="1206">2a</text></g>
</g>
<g id="exvang">
<g id="ex1"><circle class="g" cx="1939" cy="1333" r="12"/><text x="1939" y="1333">exvangelicalconfessions</text></g>
<g id="ex2"><circle class="g" cx="2021" cy="1383" r="12"/><text x="2021" y="1383">exvangelicalconfessions</text></g>
<g id="ex3"><circle class="g" cx="2074" cy="1404" r="12"/><text x="2074" y="1404">exvangelicalconfessions</text></g>
<g id="ex4"><circle class="go" cx="1922" cy="1418" r="12"/><text x="1922" y="1418">exvangelicalconfessions</text></g>
<g id="ex5"><circle class="g" cx="2115" cy="1437" r="12"/><text x="2115" y="1437">exvangelicalconfessions</text></g>
<g id="ex6"><circle class="g" cx="2201" cy="1442" r="12"/><text x="2201" y="1442">exvangelicalconfessions</text></g>
<g id="ex7"><circle class="g" cx="2021" cy="1463" r="12"/><text x="2021" y="1463">exvangelicalconfessions</text></g>
<g id="ex8"><circle class="g" cx="2218" cy="1474" r="12"/><text x="2218" y="1474">exvangelicalconfessions</text></g>
<g id="ex9"><circle class="g" cx="2052" cy="1495" r="12"/><text x="2052" y="1495">exvangelicalconfessions</text></g>
<g id="ex11"><circle class="g" cx="2155" cy="1508" r="12"/><text x="2155" y="1508">exvangelicalconfessions</text></g>
<g id="ex10"><circle class="g" cx="2108" cy="1511" r="12"/><text x="2108" y="1511">exvangelicalconfessions</text></g>
<g id="ex13"><circle class="g" cx="2227" cy="1515" r="12"/><text x="2227" y="1515">exvangelicalconfessions</text></g>
<g id="ex14"><circle class="g" cx="2270" cy="1522" r="12"/><text x="2270" y="1522">exvangelicalconfessions</text></g>
<g id="ex12"><circle class="g" cx="2191" cy="1527" r="12"/><text x="2191" y="1527">exvangelicalconfessions</text></g>
<g id="ex15"><circle class="g" cx="2257" cy="1562" r="12"/><text x="2257" y="1562">exvangelicalconfessions</text></g>
<g id="ex16"><circle class="g" cx="2183" cy="1577" r="12"/><text x="2183" y="1577">exvangelicalconfessions</text></g>
<g id="ex17"><circle class="g" cx="2233" cy="1592" r="12"/><text x="2233" y="1592">exvangelicalconfessions</text></g>
</g>
<g id="fakenews">
<g id="f1"><circle class="go" cx="1207" cy="1500" r="12"/><text x="1207" y="1500">fakenews</text></g>
<g id="f2"><circle class="g" cx="1218" cy="1597" r="12"/><text x="1218" y="1597">fakenews</text></g>
<g id="f3"><circle class="g" cx="1199" cy="1715" r="12"/><text x="1199" y="1715">fakenews</text></g>
<g id="f4"><circle class="g" cx="1112" cy="1932" r="12"/><text x="1112" y="1932">fakenews</text></g>
<g id="f5"><circle class="g" cx="1073" cy="1965" r="12"/><text x="1073" y="1965">fakenews</text></g>
<g id="f6"><circle class="g" cx="1138" cy="1969" r="12"/><text x="1138" y="1969">fakenews</text></g>
<g id="f7"><circle class="g" cx="1179" cy="1985" r="12"/><text x="1179" y="1985">fakenews</text></g>
<g id="f8"><circle class="go" cx="1097" cy="2013" r="12"/><text x="1097" y="2013">fakenews</text></g>
<g id="f9"><circle class="g" cx="1145" cy="2028" r="12"/><text x="1145" y="2028">fakenews</text></g>
</g>
<g id="support">
<g id="s1"><circle class="bl" cx="1326" cy="1635" r="12"/><text x="1326" y="1635">support</text></g>
<g id="s2"><circle class="aq" cx="1278" cy="2237" r="12"/><text x="1278" y="2237">support</text></g>
<g id="s3"><circle class="bg" cx="1340" cy="2258" r="12"/><text x="1340" y="2258">support</text></g>
<g id="s4"><circle class="aq" cx="1295" cy="2271" r="12"/><text x="1295" y="2271">support</text></g>
<g id="s6"><circle class="aq" cx="1424" cy="2274" r="12"/><text x="1424" y="2274">support</text></g>
<g id="s5"><circle class="aq" cx="1377" cy="2288" r="12"/><text x="1377" y="2288">support</text></g>
<g id="s7"><circle class="aq" cx="1409" cy="2337" r="12"/><text x="1409" y="2337">support</text></g>
<g id="s8"><circle class="go" cx="1359" cy="2364" r="12"/><text x="1359" y="2364">support</text></g>
<g id="s9"><circle class="aq" cx="1312" cy="2379" r="12"/><text x="1312" y="2379">support</text></g>
</g>
<g id="nr8">
<g id="r1"><circle class="g" cx="1683" cy="1853" r="12"/><text x="1683" y="1853">nr8</text></g>
<g id="r2"><circle class="g" cx="1631" cy="2063" r="12"/><text x="1631" y="2063">nr8</text></g>
<g id="r3"><circle class="g" cx="1433" cy="2088" r="12"/><text x="1433" y="2088">nr8</text></g>
<g id="r4"><circle class="g" cx="1468" cy="2088" r="12"/><text x="1468" y="2088">nr8</text></g>
<g id="r5"><circle class="g" cx="1656" cy="2203" r="12"/><text x="1656" y="2203">nr8</text></g>
<g id="r6"><circle class="g" cx="1589" cy="2257" r="12"/><text x="1589" y="2257">nr8</text></g>
<g id="r7"><circle class="g" cx="1680" cy="2301" r="12"/><text x="1680" y="2301">nr8</text></g>
<g id="r8"><circle class="g" cx="1635" cy="2313" r="12"/><text x="1635" y="2313">nr8</text></g>
</g>
<g id="twoa">
<g id="q1"><circle class="aq" cx="1448" cy="1559" r="12"/><text x="1448" y="1559">2a</text></g>
<g id="q2"><circle class="br" cx="1464" cy="1591" r="12"/><text x="1464" y="1591">2a</text></g>
<g id="q3"><circle class="br" cx="1481" cy="1622" r="12"/><text x="1481" y="1622">2a</text></g>
<g id="q4"><circle class="pu" cx="1439" cy="1650" r="12"/><text x="1439" y="1650">2a</text></g>
<g id="q5"><circle class="g" cx="1463" cy="1706" r="12"/><text x="1463" y="1706">2a</text></g>
<g id="q6"><circle class="mv" cx="1500" cy="1712" r="12"/><text x="1500" y="1712">2a</text></g>
<g id="q7"><circle class="pu" cx="1504" cy="1781" r="12"/><text x="1504" y="1781">2a</text></g>
<g id="q8"><circle class="br" cx="1542" cy="1792" r="12"/><text x="1542" y="1792">2a</text></g>
<g id="q9"><circle class="pu" cx="1572" cy="1796" r="12"/><text x="1572" y="1796">2a</text></g>
<g id="q10"><circle class="g" cx="1449" cy="1816" r="12"/><text x="1449" y="1816">2a</text></g>
<g id="q11"><circle class="pu" cx="1486" cy="1815" r="12"/><text x="1486" y="1815">2a</text></g>
<g id="q12"><circle class="ol" cx="1512" cy="1826" r="12"/><text x="1512" y="1826">2a</text></g>
<g id="q13"><circle class="bg" cx="1539" cy="1827" r="12"/><text x="1539" y="1827">2a</text></g>
<g id="q14"><circle class="g" cx="1566" cy="1831" r="12"/><text x="1566" y="1831">2a</text></g>
<g id="q15"><circle class="br" cx="1590" cy="1840" r="12"/><text x="1590" y="1840">2a</text></g>
<g id="q16"><circle class="g" cx="1473" cy="1839" r="12"/><text x="1473" y="1839">2a</text></g>
<g id="q17"><circle class="g" cx="1436" cy="1853" r="12"/><text x="1436" y="1853">2a</text></g>
<g id="q18"><circle class="br" cx="1466" cy="1867" r="12"/><text x="1466" y="1867">2a</text></g>
<g id="q19"><circle class="br" cx="1513" cy="1866" r="12"/><text x="1513" y="1866">2a</text></g>
<g id="q20"><circle class="bl" cx="1557" cy="1876" r="12"/><text x="1557" y="1876">2a</text></g>
<g id="q21"><circle class="g" cx="1589" cy="1876" r="12"/><text x="1589" y="1876">2a</text></g>
<g id="q22"><circle class="pu" cx="1434" cy="1881" r="12"/><text x="1434" y="1881">2a</text></g>
<g id="q23"><circle class="pu" cx="1484" cy="1902" r="12"/><text x="1484" y="1902">2a</text></g>
<g id="q24"><circle class="g" cx="1513" cy="1909" r="12"/><text x="1513" y="1909">2a</text></g>
<g id="q25"><circle class="rb" cx="1541" cy="1901" r="12"/><text x="1541" y="1901">2a</text></g>
<g id="q26"><circle class="g" cx="1583" cy="1904" r="12"/><text x="1583" y="1904">2a</text></g>
<g id="q27"><circle class="bl" cx="1449" cy="1913" r="12"/><text x="1449" y="1913">2a</text></g>
<g id="q28"><circle class="pu" cx="1566" cy="1927" r="12"/><text x="1566" y="1927">2a</text></g>
<g id="q29"><circle class="g" cx="1468" cy="1934" r="12"/><text x="1468" y="1934">2a</text></g>
<g id="q30"><circle class="br" cx="1493" cy="1943" r="12"/><text x="1493" y="1943">2a</text></g>
<g id="q31"><circle class="g" cx="1519" cy="1947" r="12"/><text x="1519" y="1947">2a</text></g>
<g id="q32"><circle class="br" cx="1544" cy="1941" r="12"/><text x="1544" y="1941">2a</text></g>
</g>
<g id="georgia">
<g id="k1"><circle class="bg" cx="1684" cy="1602" r="12"/><text x="1684" y="1602">guns</text></g>
<g id="k2"><circle class="aq" cx="1703" cy="1612" r="12"/><text x="1703" y="1612">guns</text></g>
<g id="k3"><circle class="ol" cx="1729" cy="1627" r="12"/><text x="1729" y="1627">georgia</text></g>
<g id="k4"><circle class="dp" cx="1621" cy="1644" r="12"/><text x="1621" y="1644">georgia</text></g>
<g id="k5"><circle class="aq" cx="1682" cy="1708" r="12"/><text x="1682" y="1708">georgia</text></g>
<g id="k6"><circle class="aq" cx="1769" cy="1774" r="12"/><text x="1769" y="1774">georgia</text></g>
<g id="k7"><circle class="aq" cx="1755" cy="1798" r="12"/><text x="1755" y="1798">guns</text></g>
<g id="k9"><circle class="mv" cx="1922" cy="1785" r="12"/><text x="1922" y="1785">georgia</text></g>
<g id="k8"><circle class="bg" cx="1868" cy="1793" r="12"/><text x="1868" y="1793">guns</text></g>
<g id="k10"><circle class="aq" cx="1812" cy="1818" r="12"/><text x="1812" y="1818">guns</text></g>
<g id="k11"><circle class="bl" cx="1906" cy="1818" r="12"/><text x="1906" y="1818">guns</text></g>
<g id="k12"><circle class="aq" cx="1947" cy="1816" r="12"/><text x="1947" y="1816">guns</text></g>
<g id="k13"><circle class="aq" cx="1889" cy="1851" r="12"/><text x="1889" y="1851">guns</text></g>
<g id="k14"><circle class="bg" cx="1927" cy="1850" r="12"/><text x="1927" y="1850">guns</text></g>
<g id="k15"><circle class="bg" cx="1957" cy="1855" r="12"/><text x="1957" y="1855">guns</text></g>
<g id="k16"><circle class="aq" cx="1866" cy="1876" r="12"/><text x="1866" y="1876">guns</text></g>
<g id="k18"><circle class="aq" cx="1913" cy="1888" r="12"/><text x="1913" y="1888">guns</text></g>
<g id="k17"><circle class="g" cx="1827" cy="1890" r="12"/><text x="1827" y="1890">georgia</text></g>
<g id="k19"><circle class="bg" cx="1946" cy="1893" r="12"/><text x="1946" y="1893">guns</text></g>
<g id="k20"><circle class="dp" cx="1888" cy="1911" r="12"/><text x="1888" y="1911">guns</text></g>
<g id="k21"><circle class="dp" cx="1853" cy="1921" r="12"/><text x="1853" y="1921">guns</text></g>
<g id="k22"><circle class="aq" cx="1924" cy="1925" r="12"/><text x="1924" y="1925">guns</text></g>
<g id="k24"><circle class="dp" cx="1894" cy="1946" r="12"/><text x="1894" y="1946">guns</text></g>
<g id="k23"><circle class="ol" cx="1862" cy="1951" r="12"/><text x="1862" y="1951">guns</text></g>
</g>
</svg>
